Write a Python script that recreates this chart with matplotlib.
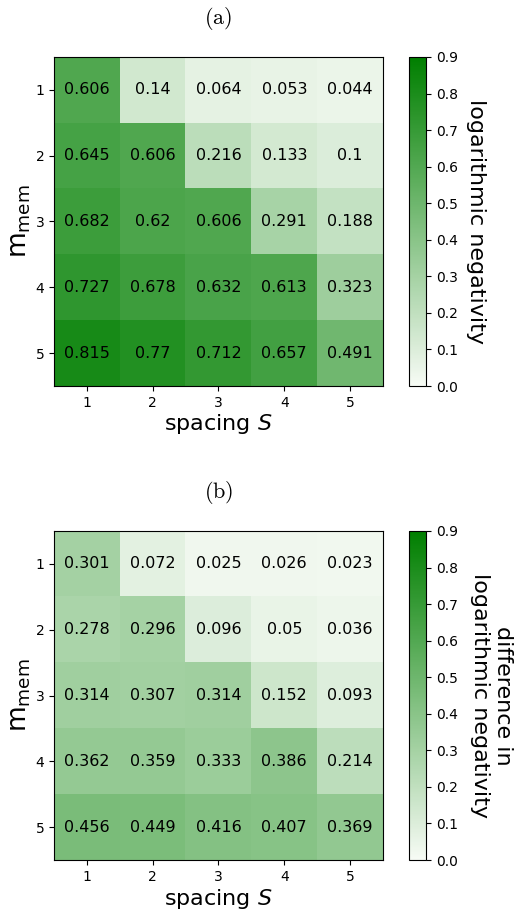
import numpy as np
import matplotlib
matplotlib.use("Agg")
import matplotlib.pyplot as plt
from matplotlib.colors import LinearSegmentedColormap

spacing = [1, 2, 3, 4, 5]
m_mem = [1, 2, 3, 4, 5]

logneg = np.array([
    [0.606, 0.14, 0.064, 0.053, 0.044],
    [0.645, 0.606, 0.216, 0.133, 0.1],
    [0.682, 0.62, 0.606, 0.291, 0.188],
    [0.727, 0.678, 0.632, 0.613, 0.323],
    [0.815, 0.77, 0.712, 0.657, 0.491],
])

logneg_diff = np.array([
    [0.301, 0.072, 0.025, 0.026, 0.023],
    [0.278, 0.296, 0.096, 0.05, 0.036],
    [0.314, 0.307, 0.314, 0.152, 0.093],
    [0.362, 0.359, 0.333, 0.386, 0.214],
    [0.456, 0.449, 0.416, 0.407, 0.369],
])

titles = [r"$\mathrm{(a)}$", r"$\mathrm{(b)}$"]
cbar_labels = ["logarithmic negativity", "difference in\nlogarithmic negativity"]

cmap = LinearSegmentedColormap.from_list("wg", ["#f7fbf5", "#007f00"])

fig = plt.figure(figsize=(5.23, 9.13), dpi=100)
W, H = 523, 913
# axes boxes in pixels: left, top, right, bottom
boxes = [(54, 57, 383, 386), (54, 531, 383, 860)]

for data, title, clabel, (l, t, r, b) in zip([logneg, logneg_diff], titles, cbar_labels, boxes):
    ax = fig.add_axes([l / W, 1 - b / H, (r - l) / W, (b - t) / H])
    cax = fig.add_axes([409 / W, 1 - b / H, 17 / W, (b - t) / H])
    im = ax.imshow(data, cmap=cmap, vmin=0, vmax=0.9, aspect="auto",
                   extent=[0.5, 5.5, 5.5, 0.5])
    for i, row in enumerate(m_mem):
        for j, col in enumerate(spacing):
            ax.text(col, row, f"{data[i, j]:g}", ha="center", va="center",
                    fontsize=11.5, color="black")
    ax.set_xticks(spacing)
    ax.set_yticks(m_mem)
    ax.tick_params(labelsize=10)
    ax.set_xlabel(r"spacing $S$", fontsize=16, labelpad=2)
    ax.set_ylabel(r"m$_\mathrm{mem}$", fontsize=19, labelpad=2)
    ax.set_title(title, fontsize=16, pad=24, math_fontfamily="cm")
    cb = fig.colorbar(im, cax=cax, ticks=np.arange(0, 0.91, 0.1))
    cb.ax.tick_params(labelsize=10)
    cb.set_label(clabel, rotation=270, fontsize=16,
                 labelpad=20 if "\n" not in clabel else 40)

fig.savefig("out.png", dpi=100)
